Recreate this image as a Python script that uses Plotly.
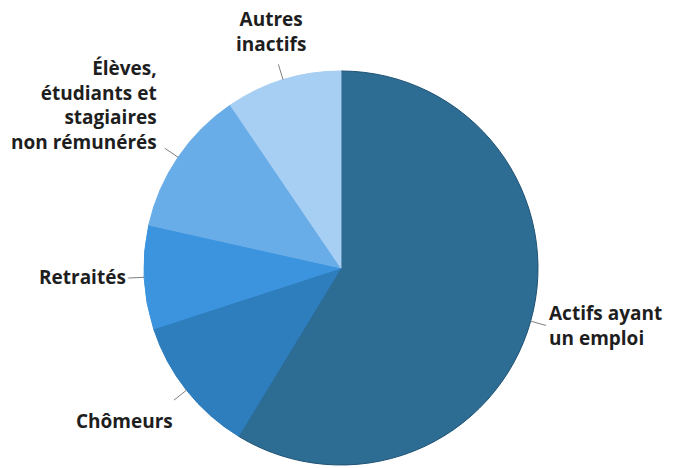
import math
import plotly.graph_objects as go

# Population by activity status (share, %)
labels = ["Actifs ayant un emploi", "Chômeurs", "Retraités",
          "Élèves, étudiants et stagiaires non rémunérés", "Autres inactifs"]
values = [58.7, 11.3, 8.5, 12.0, 9.5]
label_texts = ["Actifs ayant<br>un emploi", "Chômeurs", "Retraités",
               "Élèves,<br>étudiants et<br>stagiaires<br>non rémunérés",
               "Autres<br>inactifs"]

colors = ["#2e6d93", "#2e7dbd", "#3c94de", "#69ade8", "#a7cef3"]
edge_colors = ["#1f5275", "#2e7dbd", "#3c94de", "#69ade8", "#a7cef3"]

W, H = 676, 468
CX, CY, R = 341, 268, 197          # pie centre and radius in pixels

# label placement: (x px, y px, xanchor, align)
label_pos = [
    (547, 325, "left", "left"),
    (124, 421, "center", "center"),
    (128, 277, "right", "right"),
    (159, 105, "right", "right"),
    (271, 32, "center", "center"),
]

fig = go.Figure(go.Pie(
    labels=labels,
    values=values,
    sort=False,
    direction="clockwise",
    rotation=0,
    textinfo="none",
    hoverinfo="label+percent",
    marker=dict(colors=colors, line=dict(color=edge_colors, width=1)),
    domain=dict(x=[(CX - R) / W, (CX + R) / W],
                y=[(H - CY - R) / H, (H - CY + R) / H]),
    showlegend=False,
))

shapes = []
annotations = []
total = sum(values)
cum = 0.0
for v, txt, (lx, ly, xa, al) in zip(values, label_texts, label_pos):
    mid = (cum + v / 2) / total * 2 * math.pi
    cum += v
    dx, dy = math.sin(mid), -math.cos(mid)
    x0, y0 = CX + dx * R, CY + dy * R
    x1, y1 = CX + dx * (R + 16), CY + dy * (R + 16)
    shapes.append(dict(type="line", xref="paper", yref="paper",
                       x0=x0 / W, y0=1 - y0 / H, x1=x1 / W, y1=1 - y1 / H,
                       line=dict(color="#808080", width=1)))
    annotations.append(dict(text=txt, x=lx / W, y=1 - ly / H,
                            xref="paper", yref="paper",
                            xanchor=xa, yanchor="middle", align=al,
                            showarrow=False,
                            font=dict(family="Open Sans", size=19,
                                      color="#1e1e1e", weight="bold")))

fig.update_layout(
    width=W, height=H,
    margin=dict(l=0, r=0, t=0, b=0),
    paper_bgcolor="white",
    plot_bgcolor="white",
    shapes=shapes,
    annotations=annotations,
)

fig.write_html("out.html")
